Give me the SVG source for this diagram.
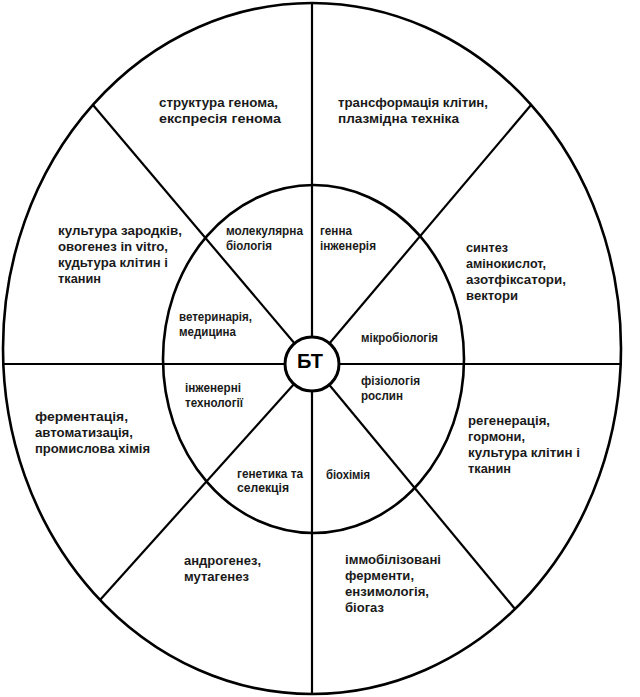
<svg xmlns="http://www.w3.org/2000/svg" width="640" height="697" viewBox="0 0 640 697">
<style>
.ln{stroke:#000;stroke-width:2.2;fill:none}
.el{stroke:#000;stroke-width:2.6;fill:none}
.t{font-family:"Liberation Sans",Arial,sans-serif;font-weight:bold;font-size:12px;fill:#1a1a1a}
.bt{font-family:"Liberation Sans",Arial,sans-serif;font-weight:bold;font-size:20px;fill:#000}
</style>
<rect width="640" height="697" fill="#fff"/>
<g id="connectors">
<ellipse class="el" cx="312" cy="348.5" rx="309" ry="345.5"/>
<ellipse class="el" cx="313.5" cy="359" rx="150.5" ry="174"/>
<line class="ln" x1="312" y1="3" x2="312" y2="694"/>
<line class="ln" x1="3" y1="364" x2="621" y2="364"/>
<line class="ln" x1="312" y1="364" x2="93" y2="105"/>
<line class="ln" x1="312" y1="364" x2="531" y2="105"/>
<line class="ln" x1="312" y1="364" x2="100" y2="600"/>
<line class="ln" x1="312" y1="364" x2="515" y2="609"/>
</g>
<g id="center">
<circle cx="312" cy="364" r="27" fill="#fff" stroke="#000" stroke-width="3"/>
<text class="bt" x="310" y="368" text-anchor="middle">БТ</text>
</g>
<g id="outer-top-left">
<text class="t" x="159" y="107" textLength="119" lengthAdjust="spacingAndGlyphs">структура генома,</text>
<text class="t" x="159" y="123" textLength="122" lengthAdjust="spacingAndGlyphs">експресія генома</text>
</g>
<g id="outer-top-right">
<text class="t" x="338" y="107" textLength="150" lengthAdjust="spacingAndGlyphs">трансформація клітин,</text>
<text class="t" x="338" y="123" textLength="121" lengthAdjust="spacingAndGlyphs">плазмідна техніка</text>
</g>
<g id="outer-left-upper">
<text class="t" x="58" y="235" textLength="124" lengthAdjust="spacingAndGlyphs">культура зародків,</text>
<text class="t" x="58" y="251" textLength="110" lengthAdjust="spacingAndGlyphs">овогенез in vitro,</text>
<text class="t" x="58" y="267" textLength="110" lengthAdjust="spacingAndGlyphs">кудьтура клітин і</text>
<text class="t" x="58" y="283" textLength="43" lengthAdjust="spacingAndGlyphs">тканин</text>
</g>
<g id="outer-right-upper">
<text class="t" x="466" y="252" textLength="42" lengthAdjust="spacingAndGlyphs">синтез</text>
<text class="t" x="466" y="268" textLength="80" lengthAdjust="spacingAndGlyphs">амінокислот,</text>
<text class="t" x="466" y="284" textLength="100" lengthAdjust="spacingAndGlyphs">азотфіксатори,</text>
<text class="t" x="466" y="300" textLength="52" lengthAdjust="spacingAndGlyphs">вектори</text>
</g>
<g id="outer-left-lower">
<text class="t" x="35" y="421" textLength="93" lengthAdjust="spacingAndGlyphs">ферментація,</text>
<text class="t" x="35" y="437" textLength="98" lengthAdjust="spacingAndGlyphs">автоматизація,</text>
<text class="t" x="35" y="453" textLength="115" lengthAdjust="spacingAndGlyphs">промислова хімія</text>
</g>
<g id="outer-right-lower">
<text class="t" x="468" y="425" textLength="82" lengthAdjust="spacingAndGlyphs">регенерація,</text>
<text class="t" x="468" y="441" textLength="57" lengthAdjust="spacingAndGlyphs">гормони,</text>
<text class="t" x="468" y="457" textLength="112" lengthAdjust="spacingAndGlyphs">культура клітин і</text>
<text class="t" x="468" y="473" textLength="43" lengthAdjust="spacingAndGlyphs">тканин</text>
</g>
<g id="outer-bottom-left">
<text class="t" x="184" y="565" textLength="77" lengthAdjust="spacingAndGlyphs">андрогенез,</text>
<text class="t" x="184" y="581" textLength="65" lengthAdjust="spacingAndGlyphs">мутагенез</text>
</g>
<g id="outer-bottom-right">
<text class="t" x="345" y="564" textLength="96" lengthAdjust="spacingAndGlyphs">іммобілізовані</text>
<text class="t" x="345" y="580" textLength="69" lengthAdjust="spacingAndGlyphs">ферменти,</text>
<text class="t" x="345" y="596" textLength="84" lengthAdjust="spacingAndGlyphs">ензимологія,</text>
<text class="t" x="345" y="612" textLength="39" lengthAdjust="spacingAndGlyphs">біогаз</text>
</g>
<g id="inner-molecular">
<text class="t" x="226" y="235" textLength="77" lengthAdjust="spacingAndGlyphs">молекулярна</text>
<text class="t" x="226" y="250" textLength="46" lengthAdjust="spacingAndGlyphs">біологія</text>
</g>
<g id="inner-genetic-eng">
<text class="t" x="320" y="235" textLength="32" lengthAdjust="spacingAndGlyphs">генна</text>
<text class="t" x="320" y="250" textLength="56" lengthAdjust="spacingAndGlyphs">інженерія</text>
</g>
<g id="inner-veterinary">
<text class="t" x="179" y="321" textLength="73" lengthAdjust="spacingAndGlyphs">ветеринарія,</text>
<text class="t" x="179" y="336" textLength="57" lengthAdjust="spacingAndGlyphs">медицина</text>
</g>
<g id="inner-microbiology">
<text class="t" x="361" y="342" textLength="77" lengthAdjust="spacingAndGlyphs">мікробіологія</text>
</g>
<g id="inner-engineering">
<text class="t" x="185" y="392" textLength="56" lengthAdjust="spacingAndGlyphs">інженерні</text>
<text class="t" x="185" y="407" textLength="58" lengthAdjust="spacingAndGlyphs">технології</text>
</g>
<g id="inner-plant-physiology">
<text class="t" x="361" y="385" textLength="59" lengthAdjust="spacingAndGlyphs">фізіологія</text>
<text class="t" x="361" y="400" textLength="42" lengthAdjust="spacingAndGlyphs">рослин</text>
</g>
<g id="inner-genetics">
<text class="t" x="237" y="478" textLength="66" lengthAdjust="spacingAndGlyphs">генетика та</text>
<text class="t" x="237" y="492" textLength="52" lengthAdjust="spacingAndGlyphs">селекція</text>
</g>
<g id="inner-biochemistry">
<text class="t" x="326" y="479" textLength="44" lengthAdjust="spacingAndGlyphs">біохімія</text>
</g>
</svg>
